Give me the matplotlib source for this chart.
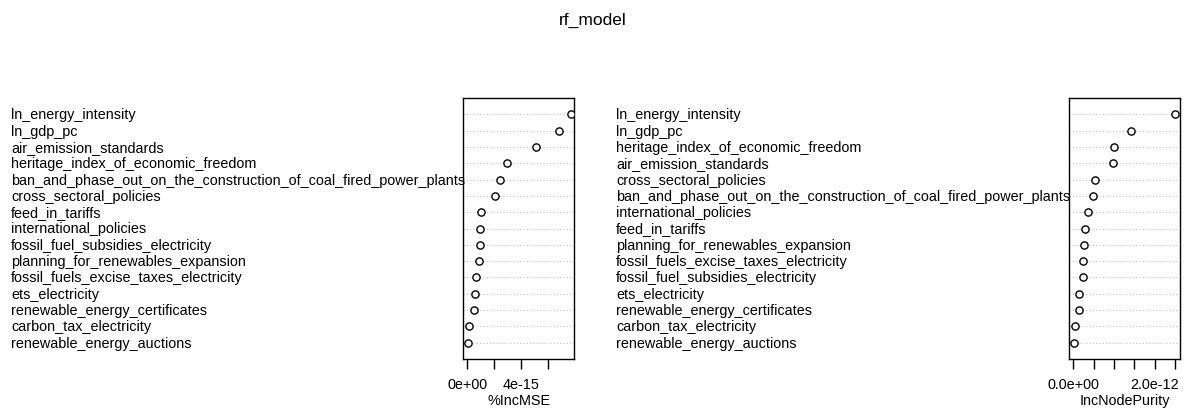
import matplotlib
matplotlib.use("Agg")
import matplotlib.pyplot as plt
from matplotlib.transforms import blended_transform_factory

plt.rcParams['font.family'] = ['Liberation Sans', 'DejaVu Sans']

# Variable importance from the random forest, listed top (most important) to bottom
mse_vars = [
    "ln_energy_intensity", "ln_gdp_pc", "air_emission_standards",
    "heritage_index_of_economic_freedom",
    "ban_and_phase_out_on_the_construction_of_coal_fired_power_plants",
    "cross_sectoral_policies", "feed_in_tariffs", "international_policies",
    "fossil_fuel_subsidies_electricity", "planning_for_renewables_expansion",
    "fossil_fuels_excise_taxes_electricity", "ets_electricity",
    "renewable_energy_certificates", "carbon_tax_electricity",
    "renewable_energy_auctions",
]
inc_mse = [7.72e-15, 6.86e-15, 5.09e-15, 2.97e-15, 2.42e-15, 2.07e-15,
           1.02e-15, 0.97e-15, 0.92e-15, 0.90e-15, 0.62e-15, 0.60e-15,
           0.47e-15, 0.12e-15, 0.02e-15]

purity_vars = [
    "ln_energy_intensity", "ln_gdp_pc", "heritage_index_of_economic_freedom",
    "air_emission_standards", "cross_sectoral_policies",
    "ban_and_phase_out_on_the_construction_of_coal_fired_power_plants",
    "international_policies", "feed_in_tariffs",
    "planning_for_renewables_expansion",
    "fossil_fuels_excise_taxes_electricity",
    "fossil_fuel_subsidies_electricity", "ets_electricity",
    "renewable_energy_certificates", "carbon_tax_electricity",
    "renewable_energy_auctions",
]
inc_purity = [2.51e-12, 1.42e-12, 1.005e-12, 0.99e-12, 0.536e-12, 0.486e-12,
              0.355e-12, 0.30e-12, 0.256e-12, 0.25e-12, 0.23e-12, 0.148e-12,
              0.13e-12, 0.05e-12, 0.025e-12]

mse_ticks = [0, 2e-15, 4e-15, 6e-15]
mse_ticklabels = ["0e+00", "", "4e-15", ""]
purity_ticks = [0, 0.5e-12, 1.0e-12, 1.5e-12, 2.0e-12, 2.5e-12]
purity_ticklabels = ["0.0e+00", "", "", "", "2.0e-12", ""]

W, H = 1185, 410
fig = plt.figure(figsize=(W / 100, H / 100), dpi=100)
FS = 10.4


def panel(left_px, right_px, label_px, names, values, xlim, ticks, ticklabels, xlabel):
    top_px, bot_px = 99, 360
    ax = fig.add_axes([left_px / W, 1 - bot_px / H,
                       (right_px - left_px) / W, (bot_px - top_px) / H])
    n = len(values)
    ys = list(range(n, 0, -1))
    for y in ys:
        ax.axhline(y, color="#bebebe", lw=0.8, ls=(0, (1, 2)), zorder=1)
    ax.plot(values, ys, ls="none", marker="o", ms=5.2, mfc="white",
            mec="black", mew=1.0, zorder=3)
    ax.set_xlim(*xlim)
    ax.set_ylim(0, n + 1)
    ax.set_yticks([])
    ax.set_xticks(ticks)
    ax.set_xticklabels(ticklabels, fontsize=FS)
    ax.tick_params(axis="x", direction="out", length=7, width=1, pad=6)
    for s in ax.spines.values():
        s.set_linewidth(1.0)
    ax.set_xlabel(xlabel, fontsize=FS, labelpad=1.2)
    tr = blended_transform_factory(fig.transFigure, ax.transData)
    for name, y in zip(names, ys):
        ax.text(label_px / W, y, name, transform=tr, ha="left", va="center",
                fontsize=FS)
    return ax


panel(463, 574, 11, mse_vars, inc_mse, (-0.33e-15, 7.96e-15),
      mse_ticks, mse_ticklabels, "%IncMSE")
panel(1069, 1180, 616, purity_vars, inc_purity, (-0.106e-12, 2.628e-12),
      purity_ticks, purity_ticklabels, "IncNodePurity")

fig.text(593 / W, 1 - 20 / H, "rf_model", ha="center", va="center",
         fontsize=FS * 1.2)

fig.savefig("out.png", dpi=100, facecolor="white")
